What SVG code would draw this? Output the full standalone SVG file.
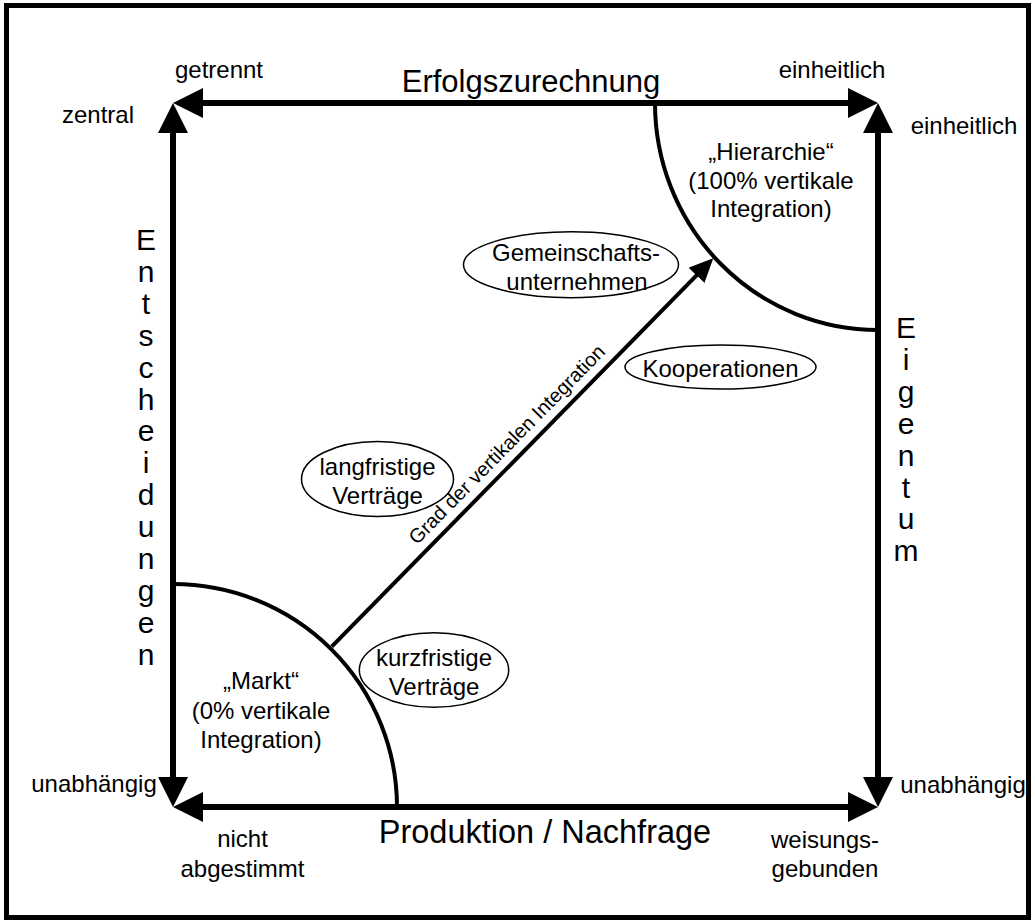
<svg xmlns="http://www.w3.org/2000/svg" width="1035" height="923" viewBox="0 0 1035 923">
  <style>
    text { font-family: "Liberation Sans", Arial, sans-serif; fill: #000; }
    .lbl { font-size: 24px; text-anchor: middle; }
    .big { text-anchor: middle; }
    .vert { font-size: 30px; text-anchor: middle; }
    .axis { stroke: #000; stroke-width: 6; fill: none; marker-start: url(#head); marker-end: url(#head); }
    .arc { stroke: #000; stroke-width: 4; fill: none; }
    .oval { stroke: #000; stroke-width: 1.5; fill: #fff; }
  </style>
  <defs>
    <marker id="head" markerUnits="userSpaceOnUse" markerWidth="30" markerHeight="30" refX="15" refY="15" orient="auto-start-reverse">
      <path d="M0,0 L30,15 L0,30 Z" fill="#000"/>
    </marker>
    <marker id="tip" markerUnits="userSpaceOnUse" markerWidth="24" markerHeight="22" refX="12" refY="11" orient="auto">
      <path d="M0,0 L24,11 L0,22 Z" fill="#000"/>
    </marker>
  </defs>

  <rect width="1035" height="923" fill="#fff"/>
  <!-- outer frame -->
  <rect id="frame" x="6.5" y="5.5" width="1022" height="912" fill="none" stroke="#000" stroke-width="5"/>

  <!-- quarter-circle regions -->
  <g id="markt">
    <path class="arc" d="M173,584 A224,223 0 0 1 397,807"/>
    <text class="lbl" x="261" y="689">„Markt“</text>
    <text class="lbl" x="261" y="718.5">(0% vertikale</text>
    <text class="lbl" x="261" y="748">Integration)</text>
  </g>
  <g id="hierarchie">
    <path class="arc" d="M655,103 A223,227 0 0 0 878,330"/>
    <text class="lbl" x="771" y="160">„Hierarchie“</text>
    <text class="lbl" x="771" y="189">(100% vertikale</text>
    <text class="lbl" x="771" y="217">Integration)</text>
  </g>

  <!-- axes and diagonal -->
  <g id="connectors">
    <line class="axis" x1="188" y1="103" x2="863" y2="103"/>
    <line class="axis" x1="188" y1="807" x2="863" y2="807"/>
    <line class="axis" x1="173" y1="118" x2="173" y2="792"/>
    <line class="axis" x1="878" y1="118" x2="878" y2="792"/>
    <line x1="331.7" y1="646.7" x2="704.9" y2="266.9" stroke="#000" stroke-width="4" marker-end="url(#tip)"/>
    <text font-size="20" text-anchor="middle" x="511.7" y="449.2" transform="rotate(-45.5 511.7 449.2)">Grad der vertikalen Integration</text>
  </g>

  <!-- axis titles -->
  <g id="erfolgszurechnung">
    <text class="big" font-size="31" x="531" y="92">Erfolgszurechnung</text>
    <text class="lbl" x="219" y="78">getrennt</text>
    <text class="lbl" x="832" y="78">einheitlich</text>
  </g>
  <g id="produktion">
    <text class="big" font-size="32.5" x="545" y="843">Produktion / Nachfrage</text>
    <text class="lbl" x="242.5" y="847">nicht</text>
    <text class="lbl" x="242.5" y="876.5">abgestimmt</text>
    <text class="lbl" x="825" y="848">weisungs-</text>
    <text class="lbl" x="825" y="877">gebunden</text>
  </g>
  <g id="entscheidungen">
    <text class="lbl" x="98" y="123">zentral</text>
    <text class="lbl" x="94" y="792">unabhängig</text>
    <text class="vert" x="146" y="250">E</text>
    <text class="vert" x="146" y="281.9">n</text>
    <text class="vert" x="146" y="313.8">t</text>
    <text class="vert" x="146" y="345.7">s</text>
    <text class="vert" x="146" y="377.6">c</text>
    <text class="vert" x="146" y="409.5">h</text>
    <text class="vert" x="146" y="441.4">e</text>
    <text class="vert" x="146" y="473.3">i</text>
    <text class="vert" x="146" y="505.2">d</text>
    <text class="vert" x="146" y="537.1">u</text>
    <text class="vert" x="146" y="569">n</text>
    <text class="vert" x="146" y="600.9">g</text>
    <text class="vert" x="146" y="632.8">e</text>
    <text class="vert" x="146" y="664.7">n</text>
  </g>
  <g id="eigentum">
    <text class="lbl" x="964" y="134">einheitlich</text>
    <text class="lbl" x="963" y="793">unabhängig</text>
    <text class="vert" x="906" y="338">E</text>
    <text class="vert" x="906" y="369.9">i</text>
    <text class="vert" x="906" y="401.8">g</text>
    <text class="vert" x="906" y="433.7">e</text>
    <text class="vert" x="906" y="465.6">n</text>
    <text class="vert" x="906" y="497.5">t</text>
    <text class="vert" x="906" y="529.4">u</text>
    <text class="vert" x="906" y="561.3">m</text>
  </g>

  <!-- intermediate forms -->
  <g id="gemeinschaftsunternehmen">
    <ellipse class="oval" cx="571" cy="264.7" rx="107.5" ry="33"/>
    <text class="lbl" x="576" y="261">Gemeinschafts-</text>
    <text class="lbl" x="577" y="289.5">unternehmen</text>
  </g>
  <g id="kooperationen">
    <ellipse class="oval" cx="720.5" cy="367" rx="95.5" ry="22"/>
    <text class="lbl" x="720.5" y="377">Kooperationen</text>
  </g>
  <g id="langfristige-vertraege">
    <ellipse class="oval" cx="377.5" cy="479" rx="76" ry="37.5"/>
    <text class="lbl" x="377.5" y="475">langfristige</text>
    <text class="lbl" x="377.5" y="504">Verträge</text>
  </g>
  <g id="kurzfristige-vertraege">
    <ellipse class="oval" cx="434" cy="670" rx="74.7" ry="37.3"/>
    <text class="lbl" x="434" y="666">kurzfristige</text>
    <text class="lbl" x="434" y="695">Verträge</text>
  </g>
</svg>
